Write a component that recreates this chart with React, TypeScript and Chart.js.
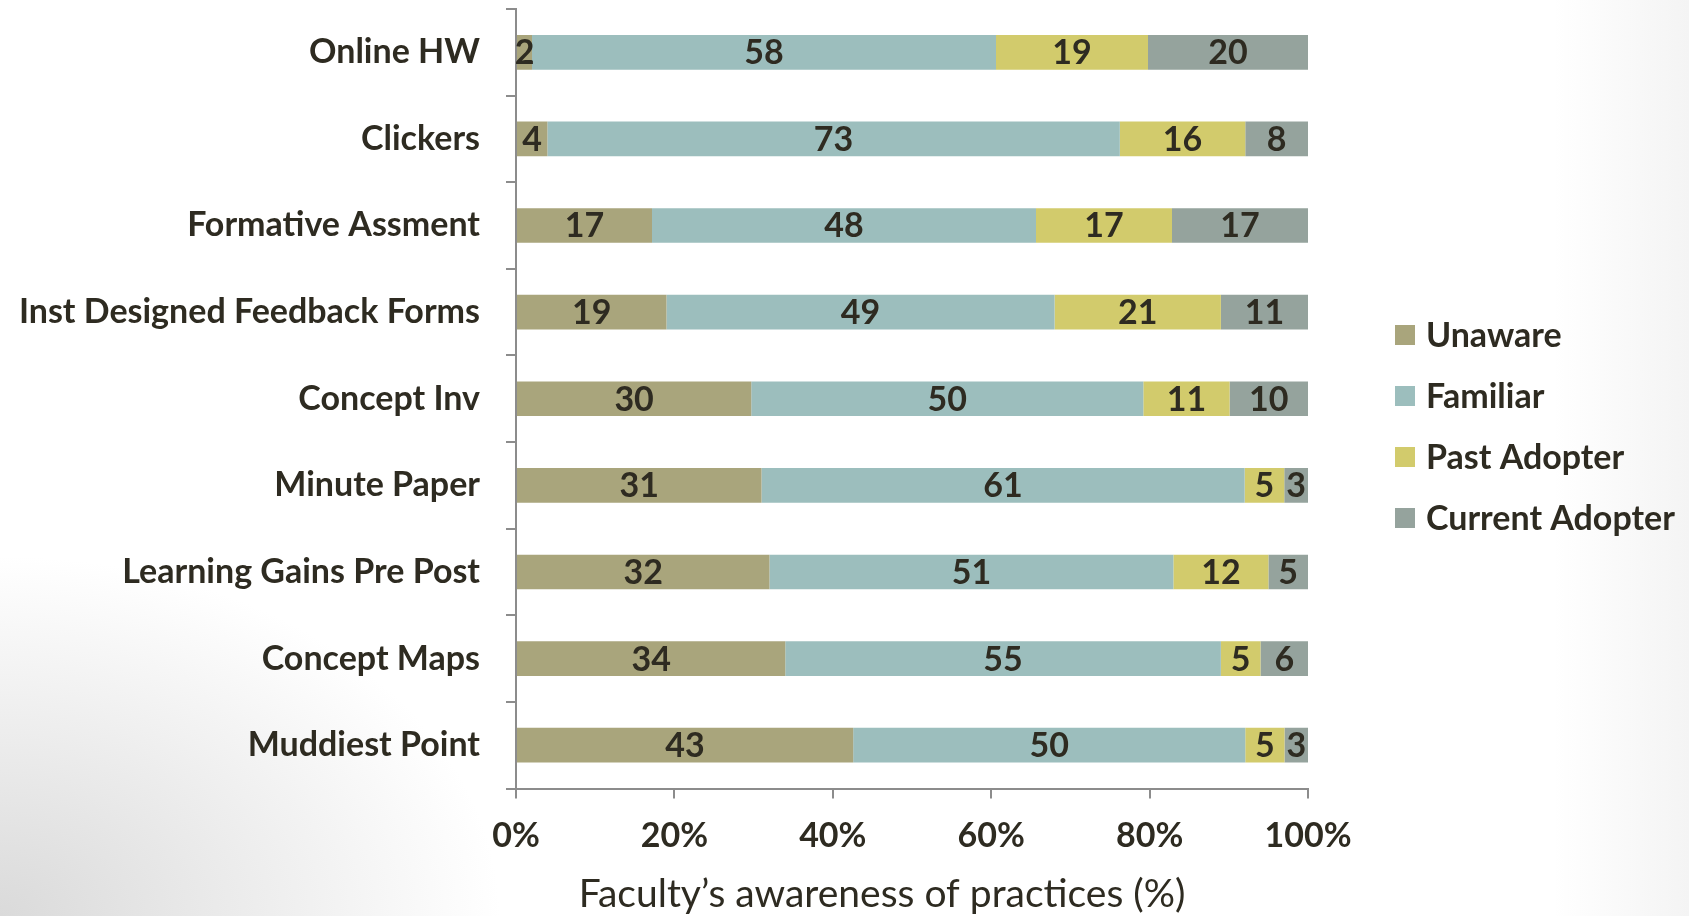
import React, { useEffect, useRef } from "react";
import { Chart, registerables } from "chart.js";

Chart.register(...registerables);

const categories = [
  "Online HW",
  "Clickers",
  "Formative Assment",
  "Inst Designed Feedback Forms",
  "Concept Inv",
  "Minute Paper",
  "Learning Gains Pre Post",
  "Concept Maps",
  "Muddiest Point",
];
const unaware = [2, 4, 17, 19, 30, 31, 32, 34, 43];
const familiar = [58, 73, 48, 49, 50, 61, 51, 55, 50];
const pastAdopter = [19, 16, 17, 21, 11, 5, 12, 5, 5];
const currentAdopter = [20, 8, 17, 11, 10, 3, 5, 6, 3];
const seriesNames = ["Unaware", "Familiar", "Past Adopter", "Current Adopter"];
const seriesColors = ["#a9a57c", "#9cbebd", "#d2cb6c", "#95a39d"];
const xTickValues = [0, 20, 40, 60, 80, 100];
const axisTitle = "Faculty’s awareness of practices (%)";

const TEXT = "#2e2b21";
const AXIS = "#8c8c8c";
const FONT = "Lato";
const FS = 34;

const valueLabels = {
  id: "valueLabels",
  afterDatasetsDraw(chart: any) {
    const ctx = chart.ctx;
    ctx.save();
    ctx.font = `bold ${FS}px ${FONT}`;
    ctx.fillStyle = TEXT;
    ctx.textAlign = "center";
    ctx.textBaseline = "middle";
    chart.data.datasets.forEach((ds: any, di: number) => {
      const meta = chart.getDatasetMeta(di);
      meta.data.forEach((bar: any, i: number) => {
        const p = bar.getProps(["x", "base", "y"], true);
        ctx.fillText(String(ds.rawValues[i]), (p.x + p.base) / 2, p.y + 1);
      });
    });
    ctx.restore();
  },
};

const sideLegend = {
  id: "sideLegend",
  afterDraw(chart: any) {
    const ctx = chart.ctx;
    const area = chart.chartArea;
    const x0 = area.right + 87;
    const y0 = 335;
    const step = 61;
    ctx.save();
    ctx.font = `bold ${FS}px ${FONT}`;
    ctx.textAlign = "left";
    ctx.textBaseline = "middle";
    chart.data.datasets.forEach((ds: any, i: number) => {
      const y = y0 + i * step;
      ctx.fillStyle = ds.backgroundColor;
      ctx.fillRect(x0, y - 10, 20, 20);
      ctx.fillStyle = TEXT;
      ctx.fillText(ds.label, x0 + 31, y + 1);
    });
    ctx.restore();
  },
};

const xTitle = {
  id: "xTitle",
  afterDraw(chart: any) {
    const ctx = chart.ctx;
    const area = chart.chartArea;
    ctx.save();
    ctx.font = `39px ${FONT}`;
    ctx.fillStyle = TEXT;
    ctx.textAlign = "center";
    ctx.textBaseline = "middle";
    ctx.fillText(axisTitle, (area.left + area.right) / 2 - 30, area.bottom + 106);
    ctx.restore();
  },
};

export default function App() {
  const ref = useRef<HTMLCanvasElement | null>(null);
  useEffect(() => {
    if (!ref.current) return;
    const series = [unaware, familiar, pastAdopter, currentAdopter];
    const totals = categories.map((_, i) => series.reduce((s, arr) => s + arr[i], 0));
    const chart = new Chart(ref.current, {
      type: "bar",
      data: {
        labels: categories,
        datasets: series.map((arr, si) => ({
          label: seriesNames[si],
          data: arr.map((v, i) => (v / totals[i]) * 100),
          rawValues: arr,
          backgroundColor: seriesColors[si],
          borderWidth: 0,
          barPercentage: 0.4,
          categoryPercentage: 1,
        })) as any,
      },
      options: {
        indexAxis: "y",
        responsive: true,
        maintainAspectRatio: false,
        animation: false,
        layout: { padding: { top: 9, right: 381, left: 0, bottom: 0 } },
        plugins: {
          legend: { display: false },
          tooltip: { enabled: false },
        },
        scales: {
          x: {
            stacked: true,
            min: 0,
            max: 100,
            afterBuildTicks(scale: any) {
              scale.ticks = xTickValues.map((v) => ({ value: v }));
            },
            afterFit(scale: any) {
              scale.height = 127.5;
              scale.paddingLeft = 0;
              scale.paddingRight = 0;
            },
            grid: {
              drawOnChartArea: false,
              drawTicks: true,
              tickLength: 10,
              color: AXIS,
              lineWidth: 2,
            },
            border: { display: true, color: AXIS, width: 2 },
            ticks: {
              padding: 17,
              color: TEXT,
              font: { family: FONT, size: FS, weight: "bold" },
              callback: (v: any) => `${v}%`,
            },
          },
          y: {
            stacked: true,
            afterFit(scale: any) {
              scale.width = 516;
              scale.paddingTop = 0;
              scale.paddingBottom = 0;
            },
            grid: {
              offset: true,
              drawOnChartArea: false,
              drawTicks: true,
              tickLength: 10,
              color: AXIS,
              lineWidth: 2,
            },
            border: { display: true, color: AXIS, width: 2 },
            ticks: {
              padding: 26,
              color: TEXT,
              font: { family: FONT, size: FS, weight: "bold" },
            },
          },
        },
      },
      plugins: [valueLabels, sideLegend, xTitle],
    });
    return () => chart.destroy();
  }, []);

  return (
    <div
      style={{
        position: "fixed",
        left: 0,
        top: 0,
        width: 1689,
        height: 916,
        background:
          "radial-gradient(ellipse 500px 360px at 0% 100%, #dadada 0%, rgba(255,255,255,0) 100%), linear-gradient(to right, #ffffff 0%, #ffffff 92%, #f4f4f4 100%)",
      }}
    >
      <canvas ref={ref} />
    </div>
  );
}
